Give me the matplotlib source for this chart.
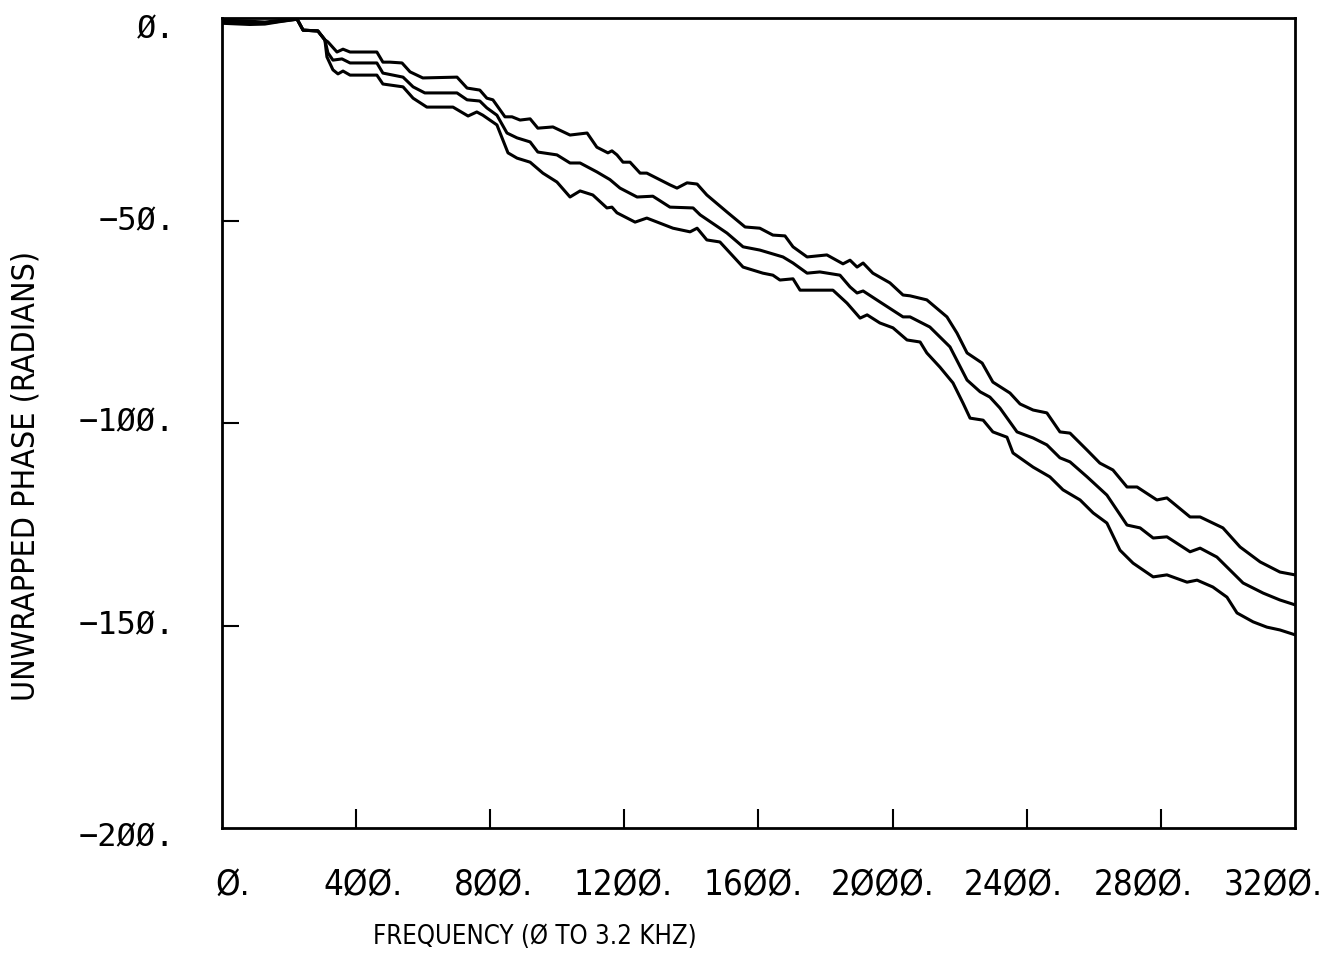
import matplotlib
matplotlib.use("Agg")
import matplotlib.pyplot as plt
from matplotlib import font_manager
from matplotlib.font_manager import FontProperties

# Unwrapped phase of three spectra, 0 to 3.2 kHz
freq_a = [0, 83, 128, 173, 224, 242, 286, 307, 316, 343, 361, 382, 462, 480, 501, 537, 561, 599,
          701, 731, 769, 790, 808, 844, 865, 889, 919, 942, 987, 1038, 1089, 1118, 1151, 1163,
          1178, 1196, 1217, 1247, 1267, 1336, 1357, 1387, 1417, 1446, 1506, 1560, 1604, 1643,
          1679, 1703, 1745, 1804, 1852, 1873, 1894, 1912, 1941, 1992, 2031, 2052, 2102, 2162,
          2192, 2222, 2267, 2299, 2350, 2380, 2419, 2460, 2499, 2529, 2580, 2618, 2657, 2699,
          2729, 2788, 2818, 2887, 2917, 2985, 3036, 3096, 3155, 3200]
phase_a = [-0.5, -0.8, -1.0, -0.6, -0.2, -3.0, -3.2, -5.4, -5.9, -8.4, -7.7, -8.4, -8.4, -10.9,
           -10.9, -11.1, -13.3, -14.8, -14.6, -17.3, -17.8, -19.8, -20.2, -24.4, -24.4, -25.2,
           -24.9, -27.2, -26.9, -28.9, -28.4, -31.9, -33.3, -32.8, -33.8, -35.6, -35.6, -38.3,
           -38.3, -41.2, -42.0, -40.7, -41.0, -43.7, -47.9, -51.6, -51.9, -53.6, -53.8, -56.5,
           -59.0, -58.5, -60.7, -59.8, -61.5, -60.5, -63.0, -65.4, -68.4, -68.6, -69.6, -73.8,
           -77.8, -82.7, -85.2, -89.9, -92.6, -95.3, -96.8, -97.5, -102.2, -102.5, -106.7,
           -109.9, -111.6, -115.8, -115.8, -119.0, -118.5, -123.2, -123.2, -125.9, -130.6,
           -134.3, -136.8, -137.5]

freq_b = [0, 83, 128, 173, 224, 242, 286, 307, 316, 331, 358, 382, 462, 480, 510, 540, 570, 605,
          701, 731, 769, 790, 820, 850, 880, 919, 942, 999, 1038, 1068, 1118, 1157, 1187, 1238,
          1285, 1336, 1405, 1426, 1506, 1554, 1604, 1673, 1703, 1745, 1783, 1843, 1873, 1894,
          1912, 1962, 2031, 2052, 2111, 2171, 2222, 2261, 2290, 2320, 2371, 2419, 2460, 2499,
          2529, 2580, 2639, 2699, 2738, 2777, 2818, 2887, 2917, 2967, 3006, 3045, 3105, 3155,
          3200]
phase_b = [-1.0, -1.2, -1.3, -0.8, -0.3, -3.0, -3.2, -5.4, -8.6, -10.4, -10.1, -11.1, -11.1,
           -13.6, -14.1, -14.6, -17.0, -18.5, -18.5, -20.2, -20.5, -22.2, -24.0, -28.4, -29.6,
           -30.6, -33.1, -33.8, -35.8, -35.8, -38.0, -39.9, -42.0, -44.2, -44.0, -46.7, -46.9,
           -48.6, -53.1, -56.5, -57.3, -59.0, -60.5, -63.0, -62.7, -63.5, -66.4, -67.9, -67.4,
           -70.1, -73.8, -73.8, -76.3, -81.2, -89.4, -92.3, -93.6, -96.3, -102.2, -103.7,
           -105.4, -108.6, -109.6, -113.3, -117.8, -125.2, -125.9, -128.4, -128.1, -131.8,
           -130.9, -133.1, -136.3, -139.5, -142.0, -143.7, -144.9]

freq_c = [0, 83, 128, 173, 224, 242, 286, 307, 313, 331, 346, 361, 382, 462, 480, 540, 570, 611,
          689, 734, 760, 778, 820, 853, 880, 919, 957, 999, 1038, 1068, 1106, 1148, 1163, 1178,
          1232, 1267, 1345, 1396, 1417, 1446, 1485, 1554, 1613, 1643, 1664, 1703, 1724, 1762,
          1822, 1864, 1903, 1924, 1962, 2001, 2043, 2082, 2102, 2141, 2180, 2210, 2231, 2270,
          2299, 2341, 2359, 2419, 2469, 2508, 2559, 2598, 2639, 2678, 2717, 2777, 2818, 2878,
          2908, 2955, 2997, 3027, 3075, 3116, 3155, 3200]
phase_c = [-1.3, -1.6, -1.5, -0.9, -0.3, -3.0, -3.2, -5.4, -9.6, -12.8, -13.8, -13.1, -14.1,
           -14.1, -16.3, -17.0, -19.8, -22.0, -22.0, -24.2, -23.2, -24.0, -26.4, -33.3, -34.6,
           -35.6, -38.3, -40.5, -44.2, -42.7, -43.7, -46.9, -46.7, -48.1, -50.4, -49.4, -51.9,
           -52.8, -51.9, -54.8, -55.3, -61.5, -63.0, -63.5, -64.7, -64.4, -67.2, -67.2, -67.2,
           -70.4, -74.1, -73.3, -75.3, -76.5, -79.5, -80.0, -82.7, -86.2, -90.1, -95.1, -98.8,
           -99.3, -102.2, -103.5, -107.4, -110.9, -113.3, -116.5, -119.0, -122.2, -124.7,
           -131.4, -134.6, -138.0, -137.5, -139.3, -138.8, -140.5, -143.0, -146.9, -149.1,
           -150.4, -151.1, -152.3]

y_ticks = [0, -50, -100, -150, -200]
y_tick_labels = ["Ø.", "−5Ø.", "−1ØØ.", "−15Ø.", "−2ØØ."]
x_marks = [400, 800, 1200, 1600, 2000, 2400, 2800]
x_tick_labels = ["Ø.", "4ØØ.", "8ØØ.", "12ØØ.", "16ØØ.", "2ØØØ.", "24ØØ.", "28ØØ.", "32ØØ."]
x_title = "FREQUENCY (Ø TO 3.2 KHZ)"
y_title = "UNWRAPPED PHASE (RADIANS)"


def condensed_font(size):
    """Pick a narrow sans face if one is installed, else fall back to DejaVu Sans."""
    for f in font_manager.fontManager.ttflist:
        name = f.fname.lower()
        if ("condensed" in name or "narrow" in name) and "bold" not in name \
                and "oblique" not in name and "italic" not in name and "sans" in name:
            return FontProperties(fname=f.fname, size=size)
    return FontProperties(family="DejaVu Sans", size=size)


mono = "DejaVu Sans Mono"

fig = plt.figure(figsize=(13.37, 9.6), dpi=100)
ax = fig.add_axes([0.166, 0.1375, 0.8026, 0.84375])

for fx, py in ((freq_a, phase_a), (freq_b, phase_b), (freq_c, phase_c)):
    ax.plot(fx, py, color="black", lw=2.2, solid_joinstyle="round")

ax.set_xlim(0, 3200)
ax.set_ylim(-200, 0)
for s in ax.spines.values():
    s.set_linewidth(2.0)

ax.set_xticks(x_marks)
ax.set_xticklabels([])
ax.tick_params(axis="x", direction="in", length=14, width=1.5, top=False)
ax.set_yticks(y_ticks[1:-1])
ax.set_yticklabels([])
ax.tick_params(axis="y", direction="in", length=12, width=1.5, right=False)

# plotter-style tick labels
y_nudge = [12, 1, 0, 0, 10]
for val, lab, dy in zip(y_ticks, y_tick_labels, y_nudge):
    yf = 0.1375 + 0.84375 * (val + 200) / 200 - dy / 960
    fig.text(0.131, yf, lab, ha="right", va="center", family=mono, fontsize=23)
for i, lab in enumerate(x_tick_labels):
    fig.text((233 + 130 * i) / 1337, 1 - 885 / 960, lab, ha="center", va="center",
             fontproperties=condensed_font(25))

fig.text(535 / 1337, 1 - 937 / 960, x_title, ha="center", va="center",
         fontproperties=condensed_font(18.5))
fig.text(26 / 1337, 1 - 476 / 960, y_title, ha="center", va="center", rotation=90,
         fontproperties=condensed_font(23))

fig.savefig("out.png", dpi=100, facecolor="white")
